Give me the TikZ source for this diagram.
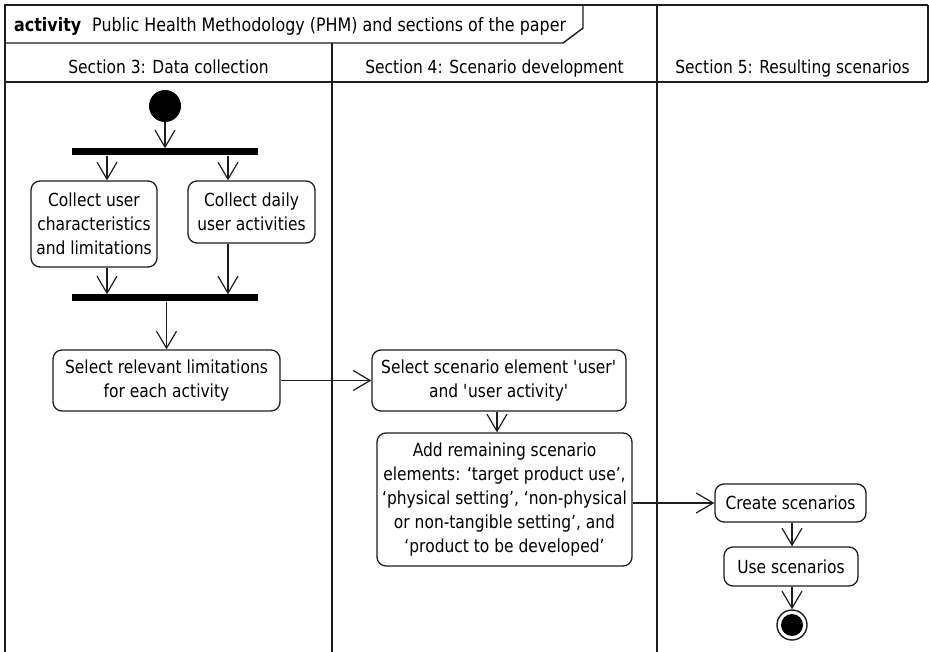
\documentclass[tikz,border=0pt]{standalone}
\usepackage{fontspec}
\setmainfont{DejaVu Sans}[FakeStretch=0.86]
\usetikzlibrary{arrows.meta}
\definecolor{linec}{HTML}{1E1E1E}
\newcommand\dgfont{\fontsize{18}{24}\selectfont}
\newcommand\sq{\textquotesingle}
\begin{document}
\begin{tikzpicture}[x=1pt,y=-1pt,
  act/.style={draw=linec, line width=1.3pt, rounded corners=9pt, align=center, inner sep=0pt, font=\dgfont, text=black},
  bar/.style={fill=black, inner sep=0pt, minimum width=186pt, minimum height=7pt},
  arr/.style={draw=linec, line width=1.2pt, -{Straight Barb[length=17pt,width=20pt]}},
  frame/.style={draw=linec, line width=2.4pt},
  lane/.style={draw=linec, line width=1.4pt},
  hdr/.style={font=\dgfont, anchor=base, inner sep=0pt}]
\useasboundingbox (0,0) rectangle (929,652);
\fill[white] (0,0) rectangle (929,652);
% frame
\draw[frame] (5,5) -- (928,5);
\draw[frame] (5,4) -- (5,652);
\draw[lane] (5,82) -- (928,82);
\draw[lane] (928,5) -- (928,82);
\draw[lane] (332,43) -- (332,652);
\draw[lane] (657,5) -- (657,652);
\draw[lane] (5,43) -- (563,43) -- (583,28) -- (583,5);
% title and headers
\node[hdr, anchor=base west, font=\fontsize{18.5}{24}\selectfont] (title) at (14,32) {\textbf{activity}\hspace{11pt}Public Health Methodology (PHM) and sections of the paper};
\node[hdr] (h3) at (168.5,74) {Section 3: Data collection};
\node[hdr] (h4) at (494.5,74) {Section 4: Scenario development};
\node[hdr] (h5) at (792.5,74) {Section 5: Resulting scenarios};
% nodes
\node[circle, fill=black, minimum size=32pt, inner sep=0pt] (init) at (165,106) {};
\node[bar] (fork) at (165,152) {};
\node[act, minimum width=126pt, minimum height=86pt] (A) at (94,224) {Collect user\\characteristics\\and limitations};
\node[act, minimum width=127pt, minimum height=62pt] (B) at (251.5,212) {Collect daily\\user activities};
\node[bar] (join) at (165,298) {};
\node[act, minimum width=227pt, minimum height=61pt] (C) at (166.5,380.5) {Select relevant limitations\\for each activity};
\node[act, minimum width=254pt, minimum height=61pt] (D) at (499,380.5) {Select scenario element \sq user\sq\\and \sq user activity\sq};
\node[act, minimum width=255pt, minimum height=133pt] (E) at (504.5,499.5) {Add remaining scenario\\elements: `target product use',\\`physical setting', `non-physical\\or non-tangible setting', and\\`product to be developed'};
\node[act, minimum width=151pt, minimum height=38pt] (F) at (790.5,503) {Create scenarios};
\node[act, minimum width=134pt, minimum height=39pt] (G) at (791,566.5) {Use scenarios};
\node[circle, draw=linec, line width=1.4pt, fill=white, minimum size=30pt, inner sep=0pt] (fin) at (792,625) {};
\fill[black] (fin.center) circle (11pt);
% connector columns
\coordinate (xa) at (107,0);
\coordinate (xb) at (228,0);
% connectors
\draw[arr] (init) -- (fork);
\draw[arr] (fork.south -| xa) -- (A.north -| xa);
\draw[arr] (fork.south -| xb) -- (B.north -| xb);
\draw[arr] (A.south -| xa) -- (join.north -| xa);
\draw[arr] (B.south -| xb) -- (join.north -| xb);
\draw[arr] (join.south -| C.north) -- (C.north);
\draw[arr] (C.east) -- (D.west);
\draw[arr] (D.south -| 497,0) -- (E.north -| 497,0);
\draw[arr] (E.east |- F.west) -- (F.west);
\draw[arr] (F.south -| 792,0) -- (G.north -| 792,0);
\draw[arr] (G.south -| fin.north) -- (fin.north);
\end{tikzpicture}
\end{document}
